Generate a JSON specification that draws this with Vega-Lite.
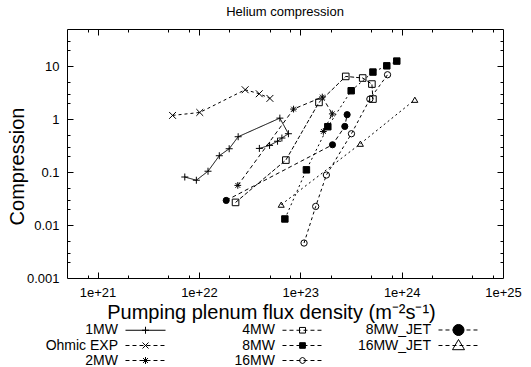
{
  "$schema": "https://vega.github.io/schema/vega-lite/v6.json",
  "width": 436,
  "height": 249,
  "autosize": "none",
  "padding": {"left": 67, "top": 29, "right": 28, "bottom": 89},
  "title": {"text": "Helium compression", "fontSize": 13, "fontWeight": "normal", "font": "Liberation Sans", "color": "black", "offset": 10, "anchor": "middle"},
  "config": {
    "view": {"stroke": "black", "strokeWidth": 1},
    "font": "Liberation Sans",
    "axis": {"grid": false, "domain": false, "labelFont": "Liberation Sans", "titleFont": "Liberation Sans", "labelColor": "black", "titleColor": "black", "tickColor": "black", "tickWidth": 1, "labelFlush": false, "labelOverlap": false}
  },
  "data": {"values": [
    {"s": "1MW", "i": 0, "x": 7.26e21, "y": 0.0805},
    {"s": "1MW", "i": 1, "x": 9.44e21, "y": 0.070},
    {"s": "1MW", "i": 2, "x": 1.23e22, "y": 0.1035},
    {"s": "1MW", "i": 3, "x": 1.59e22, "y": 0.203},
    {"s": "1MW", "i": 4, "x": 1.99e22, "y": 0.275},
    {"s": "1MW", "i": 5, "x": 2.44e22, "y": 0.463},
    {"s": "1MW", "i": 6, "x": 6.29e22, "y": 1.04},
    {"s": "1MW", "i": 7, "x": 7.64e22, "y": 0.528},
    {"s": "1MW", "i": 8, "x": 6.59e22, "y": 0.438},
    {"s": "1MW", "i": 9, "x": 5.97e22, "y": 0.381},
    {"s": "1MW", "i": 10, "x": 4.98e22, "y": 0.318},
    {"s": "1MW", "i": 11, "x": 3.95e22, "y": 0.279},
    {"s": "Ohmic EXP", "i": 0, "x": 5.5e21, "y": 1.17},
    {"s": "Ohmic EXP", "i": 1, "x": 1.02e22, "y": 1.33},
    {"s": "Ohmic EXP", "i": 2, "x": 2.86e22, "y": 3.57},
    {"s": "Ohmic EXP", "i": 3, "x": 3.94e22, "y": 3.0},
    {"s": "Ohmic EXP", "i": 4, "x": 5.02e22, "y": 2.45},
    {"s": "2MW", "i": 0, "x": 2.42e22, "y": 0.0559},
    {"s": "2MW", "i": 1, "x": 8.59e22, "y": 1.54},
    {"s": "2MW", "i": 2, "x": 1.65e23, "y": 2.60},
    {"s": "2MW", "i": 3, "x": 2.07e23, "y": 1.25},
    {"s": "2MW", "i": 4, "x": 1.69e23, "y": 0.583},
    {"s": "4MW", "i": 0, "x": 2.30e22, "y": 0.0267},
    {"s": "4MW", "i": 1, "x": 7.21e22, "y": 0.168},
    {"s": "4MW", "i": 2, "x": 1.53e23, "y": 2.06},
    {"s": "4MW", "i": 3, "x": 2.81e23, "y": 6.37},
    {"s": "4MW", "i": 4, "x": 4.13e23, "y": 5.94},
    {"s": "4MW", "i": 5, "x": 5.09e23, "y": 4.57},
    {"s": "4MW", "i": 6, "x": 5.21e23, "y": 2.38},
    {"s": "8MW", "i": 0, "x": 7.05e22, "y": 0.0130},
    {"s": "8MW", "i": 1, "x": 1.15e23, "y": 0.110},
    {"s": "8MW", "i": 2, "x": 1.87e23, "y": 0.716},
    {"s": "8MW", "i": 3, "x": 3.18e23, "y": 3.42},
    {"s": "8MW", "i": 4, "x": 5.21e23, "y": 7.7},
    {"s": "8MW", "i": 5, "x": 7.14e23, "y": 10.1},
    {"s": "8MW", "i": 6, "x": 8.96e23, "y": 12.4},
    {"s": "16MW", "i": 0, "x": 1.09e23, "y": 0.00457},
    {"s": "16MW", "i": 1, "x": 1.42e23, "y": 0.0224},
    {"s": "16MW", "i": 2, "x": 1.81e23, "y": 0.0878},
    {"s": "16MW", "i": 3, "x": 3.20e23, "y": 0.528},
    {"s": "16MW", "i": 4, "x": 4.86e23, "y": 2.38},
    {"s": "16MW", "i": 5, "x": 7.26e23, "y": 6.85},
    {"s": "8MW_JET", "i": 0, "x": 1.86e22, "y": 0.0291},
    {"s": "8MW_JET", "i": 1, "x": 2.08e23, "y": 0.327},
    {"s": "8MW_JET", "i": 2, "x": 2.75e23, "y": 0.725},
    {"s": "8MW_JET", "i": 3, "x": 2.90e23, "y": 1.21},
    {"s": "16MW_JET", "i": 0, "x": 6.49e22, "y": 0.0242},
    {"s": "16MW_JET", "i": 1, "x": 3.92e23, "y": 0.342},
    {"s": "16MW_JET", "i": 2, "x": 1.35e24, "y": 2.31}
  ]},
  "layer": [
    {
      "mark": {"type": "line", "color": "black", "strokeWidth": 1},
      "encoding": {
        "x": {"field": "x", "type": "quantitative", "scale": {"type": "log", "domain": [5e20, 1e25]},
          "axis": {"orient": "bottom", "ticks": false, "values": [1e21, 1e22, 1e23, 1e24, 1e25], "format": ".0e", "labelFontSize": 13, "labelPadding": 8,
            "title": "Pumping plenum flux density (m⁻²s⁻¹)", "titleFontSize": 20, "titleFontWeight": "normal", "titleX": 204, "titleY": 34, "titleBaseline": "middle", "titleAlign": "center"}},
        "y": {"field": "y", "type": "quantitative", "scale": {"type": "log", "domain": [0.001, 50]},
          "axis": {"orient": "left", "ticks": false, "values": [0.001, 0.01, 0.1, 1, 10], "format": "~g", "labelFontSize": 13, "labelPadding": 8,
            "title": "Compression", "titleFontSize": 20, "titleFontWeight": "normal", "titleX": -50, "titleY": 137, "titleBaseline": "middle", "titleAlign": "center"}},
        "detail": {"field": "s"},
        "strokeDash": {"field": "s", "type": "nominal", "legend": null,
          "scale": {"domain": ["1MW", "Ohmic EXP", "2MW", "4MW", "8MW", "16MW", "8MW_JET", "16MW_JET"],
            "range": [[1, 0], [3, 3], [4, 3], [4, 2], [2, 3], [3, 3], [4, 3], [2, 3]]}},
        "order": {"field": "i", "type": "quantitative"}
      }
    },
    {
      "mark": {"type": "point", "filled": false, "stroke": "black", "strokeWidth": 1, "opacity": 1},
      "encoding": {
        "x": {"field": "x", "type": "quantitative", "scale": {"type": "log", "domain": [5e20, 1e25]},
          "axis": {"orient": "bottom", "labels": false, "title": null, "tickSize": -6, "values": [1e21, 1e22, 1e23, 1e24]}},
        "y": {"field": "y", "type": "quantitative", "scale": {"type": "log", "domain": [0.001, 50]},
          "axis": {"orient": "left", "labels": false, "title": null, "tickSize": -6, "values": [0.01, 0.1, 1, 10]}},
        "shape": {"field": "s", "type": "nominal", "legend": null,
          "scale": {"domain": ["1MW", "Ohmic EXP", "2MW", "4MW", "8MW", "16MW", "8MW_JET", "16MW_JET"],
            "range": ["M-1,0L1,0M0,-1L0,1", "M-1,-1L1,1M-1,1L1,-1", "M-1,0L1,0M0,-1L0,1M-0.7,-0.7L0.7,0.7M-0.7,0.7L0.7,-0.7", "square", "square", "circle", "circle", "triangle-up"]}},
        "fill": {"field": "s", "type": "nominal", "legend": null,
          "scale": {"domain": ["1MW", "Ohmic EXP", "2MW", "4MW", "8MW", "16MW", "8MW_JET", "16MW_JET"],
            "range": ["transparent", "transparent", "black", "transparent", "black", "transparent", "black", "transparent"]}},
        "size": {"field": "s", "type": "ordinal", "legend": null,
          "scale": {"domain": ["1MW", "Ohmic EXP", "2MW", "4MW", "8MW", "16MW", "8MW_JET", "16MW_JET"],
            "range": [49, 36, 49, 30, 30, 30, 121, 144]}}
      }
    },
    {
      "transform": [{"filter": "false"}],
      "mark": {"type": "point", "filled": false, "color": "black", "strokeWidth": 1},
      "encoding": {
        "x": {"field": "x", "type": "quantitative", "scale": {"type": "log", "domain": [5e20, 1e25]},
          "axis": {"orient": "top", "labels": false, "title": null, "tickSize": -6, "values": [1e21, 1e22, 1e23, 1e24]}},
        "y": {"field": "y", "type": "quantitative", "scale": {"type": "log", "domain": [0.001, 50]},
          "axis": {"orient": "right", "labels": false, "title": null, "tickSize": -6, "values": [0.01, 0.1, 1, 10]}},
        "fill": {"field": "s", "type": "nominal", "legend": null,
          "scale": {"domain": ["1MW", "Ohmic EXP", "2MW", "4MW", "8MW", "16MW", "8MW_JET", "16MW_JET"],
            "range": ["black", "black", "black", "black", "black", "black", "black", "black"]}},
        "shape": {"field": "s", "type": "nominal",
          "scale": {"domain": ["1MW", "Ohmic EXP", "2MW", "4MW", "8MW", "16MW", "8MW_JET", "16MW_JET"],
            "range": [
              "M-1,0L-1,0M13.57,0L19.29,0M15.93,0L16.93,0M16.43,-0.5L16.43,0.5",
              "M-1,0L-1,0M13.57,0L14.14,0M14.57,0L15.14,0M15.57,0L16.14,0M16.57,0L17.14,0M17.57,0L18.14,0M18.57,0L19.14,0M16,-0.43L16.86,0.43M16,0.43L16.86,-0.43",
              "M-1,0L-1,0M13.57,0L14.14,0M14.57,0L15.14,0M15.57,0L16.14,0M16.57,0L17.14,0M17.57,0L18.14,0M18.57,0L19.14,0M15.93,0L16.93,0M16.43,-0.5L16.43,0.5M16.08,-0.35L16.78,0.35M16.08,0.35L16.78,-0.35",
              "M-1,0L-1,0M13.57,0L14.14,0M14.57,0L15.14,0M15.57,0L16.14,0M16.57,0L17.14,0M17.57,0L18.14,0M18.57,0L19.14,0M16,-0.4L16.86,-0.4M16.86,-0.4L16.86,0.4M16.86,0.4L16,0.4M16,0.4L16,-0.4",
              "M-1,0L-1,0M13.57,0L14.14,0M14.57,0L15.14,0M15.57,0L16.14,0M16.57,0L17.14,0M17.57,0L18.14,0M18.57,0L19.14,0M16.02,-0.4L16.84,-0.4L16.84,0.4L16.02,0.4Z",
              "M-1,0L-1,0M13.57,0L14.14,0M14.57,0L15.14,0M15.57,0L16.14,0M16.57,0L17.14,0M17.57,0L18.14,0M18.57,0L19.14,0M16.86,0L16.73,0.3M16.73,0.3L16.43,0.43M16.43,0.43L16.13,0.3M16.13,0.3L16,0M16,0L16.13,-0.3M16.13,-0.3L16.43,-0.43M16.43,-0.43L16.73,-0.3M16.73,-0.3L16.86,0",
              "M-1,0L-1,0M13.57,0L14.14,0M14.57,0L15.14,0M15.57,0L16.14,0M16.57,0L17.14,0M17.57,0L18.14,0M18.57,0L19.14,0M17.22,0A0.79,0.79,0,1,1,15.64,0A0.79,0.79,0,1,1,17.22,0Z",
              "M-1,0L-1,0M13.57,0L14.14,0M14.57,0L15.14,0M15.57,0L16.14,0M16.57,0L17.14,0M17.57,0L18.14,0M18.57,0L19.14,0M16.43,-0.86L17.29,0.6M17.29,0.6L15.57,0.6M15.57,0.6L16.43,-0.86"
            ]},
          "legend": {"orient": "none", "legendX": -44, "legendY": 293, "columns": 3, "direction": "vertical", "title": null, "symbolSize": 196,
            "labelFontSize": 14, "labelFont": "Liberation Sans", "labelColor": "black", "labelAlign": "right", "labelOffset": 80,
            "columnPadding": 10, "rowPadding": -11.5, "padding": 0, "labelLimit": 200,
            "symbolStrokeColor": "black", "symbolStrokeWidth": 1, "symbolFillColor": "black", "symbolOpacity": 1}
        }
      }
    },
    {
      "transform": [{"filter": "false"}],
      "mark": {"type": "point"},
      "encoding": {
        "x": {"field": "x", "type": "quantitative", "scale": {"type": "log", "domain": [5e20, 1e25]},
          "axis": {"orient": "bottom", "labels": false, "title": null, "tickSize": -3, "values": [8e20, 2e21, 5e21, 8e21, 2e22, 5e22, 8e22, 2e23, 5e23, 8e23, 2e24, 5e24, 8e24]}},
        "y": {"field": "y", "type": "quantitative", "scale": {"type": "log", "domain": [0.001, 50]},
          "axis": {"orient": "left", "labels": false, "title": null, "tickSize": -3, "values": [0.002, 0.003, 0.005, 0.02, 0.03, 0.05, 0.2, 0.3, 0.5, 2, 3, 5, 20, 30]}}
      }
    },
    {
      "transform": [{"filter": "false"}],
      "mark": {"type": "point"},
      "encoding": {
        "x": {"field": "x", "type": "quantitative", "scale": {"type": "log", "domain": [5e20, 1e25]},
          "axis": {"orient": "top", "labels": false, "title": null, "tickSize": -3, "values": [8e20, 2e21, 5e21, 8e21, 2e22, 5e22, 8e22, 2e23, 5e23, 8e23, 2e24, 5e24, 8e24]}},
        "y": {"field": "y", "type": "quantitative", "scale": {"type": "log", "domain": [0.001, 50]},
          "axis": {"orient": "right", "labels": false, "title": null, "tickSize": -3, "values": [0.002, 0.003, 0.005, 0.02, 0.03, 0.05, 0.2, 0.3, 0.5, 2, 3, 5, 20, 30]}}
      }
    }
  ],
  "resolve": {"axis": {"x": "independent", "y": "independent"}, "scale": {"shape": "independent", "fill": "independent"}}
}
